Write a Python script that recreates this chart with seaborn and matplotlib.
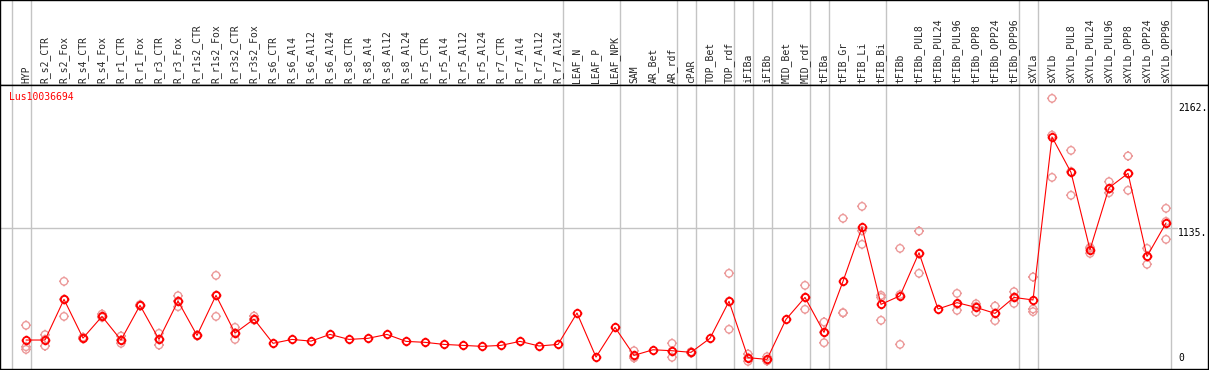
import matplotlib
matplotlib.use("Agg")
import matplotlib.pyplot as plt
from matplotlib.path import Path
import pandas as pd
import seaborn as sns

samples = ["HYP", "R_s2_CTR", "R_s2_Fox", "R_s4_CTR", "R_s4_Fox", "R_r1_CTR", "R_r1_Fox",
           "R_r3_CTR", "R_r3_Fox", "R_r1s2_CTR", "R_r1s2_Fox", "R_r3s2_CTR", "R_r3s2_Fox",
           "R_s6_CTR", "R_s6_Al4", "R_s6_Al12", "R_s6_Al24", "R_s8_CTR", "R_s8_Al4",
           "R_s8_Al12", "R_s8_Al24", "R_r5_CTR", "R_r5_Al4", "R_r5_Al12", "R_r5_Al24",
           "R_r7_CTR", "R_r7_Al4", "R_r7_Al12", "R_r7_Al24", "LEAF_N", "LEAF_P", "LEAF_NPK",
           "SAM", "AR_Bet", "AR_rdf", "cPAR", "TOP_Bet", "TOP_rdf", "iFIBa", "iFIBb",
           "MID_Bet", "MID_rdf", "tFIBa", "tFIB_Gr", "tFIB_Li", "tFIB_Bi", "tFIBb",
           "tFIBb_PUL8", "tFIBb_PUL24", "tFIBb_PUL96", "tFIBb_OPP8", "tFIBb_OPP24",
           "tFIBb_OPP96", "sXYLa", "sXYLb", "sXYLb_PUL8", "sXYLb_PUL24", "sXYLb_PUL96",
           "sXYLb_OPP8", "sXYLb_OPP24", "sXYLb_OPP96"]

means = [217, 217, 551, 233, 411, 217, 502, 222, 537, 255, 584, 274, 389,
         190, 222, 208, 263, 222, 231, 263, 206, 198, 181, 173, 165, 173, 206, 168, 181,
         439, 77, 321,
         91, 137, 129, 116, 231, 535, 72, 58, 387, 567,
         280, 699, 1143, 510,
         580, 934, 472, 524, 485, 436, 567,
         546,
         1885, 1594, 959, 1468, 1586, 904, 1178]

reps = [[338, 162, 140], [261, 168, 222], [699, 411, 551], [240, 228, 233],
        [430, 403, 411], [250, 190, 217], [508, 497, 502], [272, 176, 222],
        [581, 491, 537], [258, 252, 255], [748, 411, 584], [321, 222, 274],
        [414, 381, 389],
        [], [], [], [], [], [], [], [], [], [], [], [], [], [], [], [],
        [], [], [],
        [129, 80, 70], [], [190, 75, 125], [120, 110, 118], [], [765, 305, 535],
        [102, 42, 72], [80, 50, 45], [], [666, 469, 567],
        [365, 195, 280], [1217, 441, 441], [1315, 1003, 1115], [584, 567, 379],
        [970, 181, 590], [1112, 765, 925], [], [600, 461, 511], [515, 447, 493],
        [496, 376, 436], [614, 518, 569],
        [735, 472, 450],
        [2202, 1553, 1900], [1775, 1406, 1601], [970, 929, 978], [1518, 1427, 1459],
        [1729, 1447, 1582], [970, 839, 903], [1299, 1044, 1191]]

group_ends = [-1, 0, 28, 31, 34, 35, 37, 38, 39, 41, 42, 45, 52, 53, 60]
gene = "Lus10036694"
scale_values = [2162, 1135, 0]
scale_labels = ["2162.", "1135.", "0"]

df_mean = pd.DataFrame({"pos": range(len(samples)), "value": means})
df_rep = pd.DataFrame([(i, v) for i, r in enumerate(reps) for v in r], columns=["pos", "value"])

# circle with little ticks, like the original marker
stubs = Path([(0, 1), (0, 1.35), (0, -1), (0, -1.35), (1, 0), (1.35, 0), (-1, 0), (-1.35, 0)],
             [Path.MOVETO, Path.LINETO] * 4)
tick_circle = Path.make_compound_path(Path.unit_circle(), stubs)

sns.set_style("white")
plt.rcParams["font.family"] = ["DejaVu Sans Mono"]

W, H = 1209, 370
fig = plt.figure(figsize=(W / 100, H / 100), dpi=100)
ax_head = fig.add_axes([0, (H - 85) / H, 1208 / W, 85 / H])
ax = fig.add_axes([0, 1 / H, 1208 / W, 284 / H])

xlim = (-26 / 19, (1208 - 26) / 19)
for a in (ax, ax_head):
    a.set_xlim(*xlim)
    a.set_xticks([])
    a.set_yticks([])
    for s in a.spines.values():
        s.set_color("black")
        s.set_linewidth(1.0)
    for g in group_ends:
        a.axvline(g + 0.27, color="#c4c4c4", lw=1.0, zorder=0)

ax_head.set_ylim(0, 1)
for i, name in enumerate(samples):
    ax_head.text(i, 0.025, name, rotation=90, ha="center", va="bottom", fontsize=7)

ax.set_ylim(-21, 2312)
ax.axhline(1135, xmax=1177 / 1208, color="#c4c4c4", lw=1.0, zorder=0)

sns.scatterplot(data=df_rep, x="pos", y="value", ax=ax, marker=tick_circle, s=52,
                facecolors="none", edgecolors="#ec9a9a", linewidth=1.0, zorder=2)
sns.lineplot(data=df_mean, x="pos", y="value", ax=ax, color="red", lw=0.8,
             marker=tick_circle, markersize=7.0, markerfacecolor="none",
             markeredgecolor="red", markeredgewidth=1.3, zorder=3)
ax.set_xlim(*xlim)
ax.set_xlabel("")
ax.set_ylabel("")
ax.set_xticks([])
ax.set_yticks([])

xr = xlim[0] + (1178 / 1208) * (xlim[1] - xlim[0])
for v, lab in zip(scale_values, scale_labels):
    ax.text(xr, v if v > 0 else 25, lab, ha="left", va="top" if v > 0 else "bottom",
            fontsize=7, color="black")
ax.text(xlim[0] + 9 / 19, 2213, gene, color="red", fontsize=7, ha="left", va="center")

fig.savefig("out.png", dpi=100)
